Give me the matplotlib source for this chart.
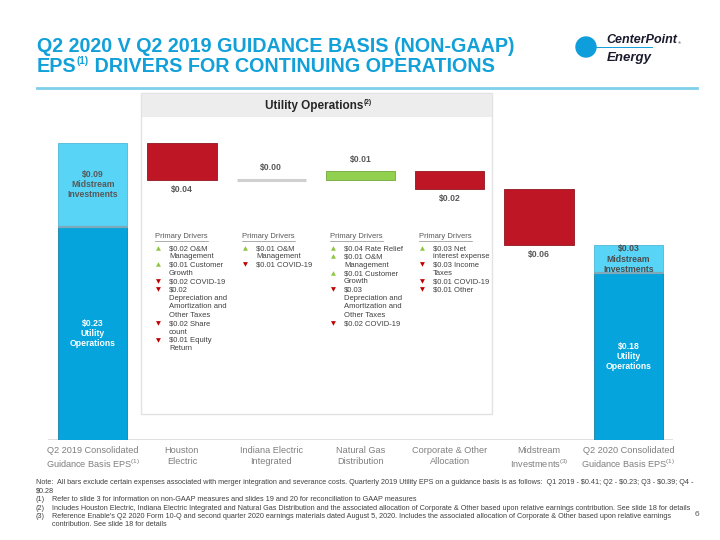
import matplotlib
matplotlib.use('Agg')
import matplotlib.pyplot as plt
from matplotlib.patches import Rectangle, Ellipse
from matplotlib.lines import Line2D

plt.rcParams['font.family'] = ['Liberation Sans', 'DejaVu Sans']
plt.rcParams['mathtext.fontset'] = 'custom'
plt.rcParams['mathtext.rm'] = 'Liberation Sans'
plt.rcParams['mathtext.default'] = 'regular'

# ---- data ----
categories = ['Q2 2019 Consolidated\nGuidance Basis EPS$^{(1)}$',
              'Houston\nElectric',
              'Indiana Electric\nIntegrated',
              'Natural Gas\nDistribution',
              'Corporate & Other\nAllocation',
              'Midstream\nInvestments$^{(3)}$',
              'Q2 2020 Consolidated\nGuidance Basis EPS$^{(1)}$']
start_util, start_mid = 0.23, 0.09
deltas = [-0.04, 0.00, 0.01, -0.02, -0.06]
end_util, end_mid = 0.18, 0.03

drivers = [
    [('up', '$0.02 O&M\nManagement'),
     ('up', '$0.01 Customer\nGrowth'),
     ('down', '$0.02 COVID-19'),
     ('down', '$0.02\nDepreciation and\nAmortization and\nOther Taxes'),
     ('down', '$0.02 Share\ncount'),
     ('down', '$0.01 Equity\nReturn')],
    [('up', '$0.01 O&M\nManagement'),
     ('down', '$0.01 COVID-19')],
    [('up', '$0.04 Rate Relief'),
     ('up', '$0.01 O&M\nManagement'),
     ('up', '$0.01 Customer\nGrowth'),
     ('down', '$0.03\nDepreciation and\nAmortization and\nOther Taxes'),
     ('down', '$0.02 COVID-19')],
    [('up', '$0.03 Net\ninterest expense'),
     ('down', '$0.03 Income\nTaxes'),
     ('down', '$0.01 COVID-19'),
     ('down', '$0.01 Other')],
]
driver_x = [155, 242, 330, 419]

notes = [
    (None, 'Note:  All bars exclude certain expenses associated with merger integration and severance costs. '
           'Quarterly 2019 Utility EPS on a guidance basis is as follows:  Q1 2019 - $0.41; Q2 - $0.23; Q3 - $0.39; Q4 -'),
    (None, '$0.28'),
    ('(1)', 'Refer to slide 3 for information on non-GAAP measures and slides 19 and 20 for reconciliation to GAAP measures'),
    ('(2)', 'Includes Houston Electric, Indiana Electric Integrated and Natural Gas Distribution and the associated '
            'allocation of Corporate & Other based upon relative earnings contribution. See slide 18 for details'),
    ('(3)', "Reference Enable's Q2 2020 Form 10-Q and second quarter 2020 earnings materials dated August 5, 2020. "
            'Includes the associated allocation of Corporate & Other based upon relative earnings'),
    ('', 'contribution. See slide 18 for details'),
]
note_y = [482, 491, 499.5, 508, 516.5, 525]

BLUE = '#12A0D9'
MID_C, UTIL_C = '#57D4F6', '#05A4DC'
RED, GREEN = '#BE1624', '#92D050'
GRAY = '#595959'

W, H = 720, 540
fig = plt.figure(figsize=(7.2, 5.4), dpi=100)
renderer = fig.canvas.get_renderer()


def fx(x):
    return x / W


def fy(y):
    return 1 - y / H


def esc(s):
    return s.replace('$', r'\$')


def seq_text(x, y, parts, **kw):
    # parts: (text, fontsize, raise_px); placed one after another
    for text, size, dy in parts:
        t = fig.text(fx(x), fy(y - dy), text, fontsize=size, va='baseline', **kw)
        x = t.get_window_extent(renderer).x1


# ---- header ----
fig.text(fx(37), fy(52), 'Q2 2020 V Q2 2019 GUIDANCE BASIS (NON-GAAP)', fontsize=14.2,
         weight='bold', color=BLUE, va='baseline')
seq_text(37, 71.5, [('EPS', 14.2, 0), ('(1)', 7, 7.5), (' DRIVERS FOR CONTINUING OPERATIONS', 14.2, 0)],
         weight='bold', color=BLUE)
fig.add_artist(Line2D([fx(37), fx(697)], [fy(88), fy(88)], color='#7DCFEA', lw=2))

# logo
fig.add_artist(Ellipse((fx(586), fy(47)), 20 / W, 20 / H, color='#0E9EDB'))
fig.add_artist(Line2D([fx(590), fx(652)], [fy(47), fy(47)], color='#0E9EDB', lw=0.7))
fig.text(fx(606), fy(40), 'CenterPoint', fontsize=9, weight='bold', style='italic',
         color='#1A1A2E', va='center')
fig.text(fx(678), fy(43), '®', fontsize=3, color='#1A1A2E', va='center')
fig.text(fx(607), fy(58), 'Energy', fontsize=9.5, weight='bold', style='italic',
         color='#1A1A2E', va='center')

# ---- utility operations panel ----
fig.add_artist(Rectangle((fx(141), fy(414)), (492 - 141) / W, (414 - 93) / H,
                         facecolor='white', edgecolor='#E2E2E2', lw=1, zorder=-2))
fig.add_artist(Rectangle((fx(141.5), fy(117)), (491 - 141) / W, (117 - 93.5) / H,
                         facecolor='#EDEDED', edgecolor='none', zorder=-1))
seq_text(265, 108.5, [('Utility Operations', 8.5, 0), ('(2)', 4.8, 4)], weight='bold', color='#262626')

# ---- waterfall ----
ax = fig.add_axes([fx(48), fy(440), 625 / W, (440 - 93) / H])
ax.patch.set_alpha(0)
ax.set_xlim(-0.5, 6.5)
ax.set_ylim(0, (440 - 93) / 928)
for s in ax.spines.values():
    s.set_visible(False)
ax.set_yticks([])
ax.set_xticks(range(len(categories)), categories)
ax.tick_params(axis='x', length=0, pad=4, labelsize=6.6, labelcolor='#7F7F7F')
for t in ax.get_xticklabels():
    t.set_linespacing(1.3)
ax.axhline(0, color='#D9D9D9', lw=1.2, zorder=0)

bw = 0.775
lab = dict(ha='center', va='center', fontsize=6.2, weight='bold', linespacing=1.15)

ax.bar(0, start_util, bw, color=UTIL_C, edgecolor='#1C7FA3', lw=0.6)
ax.bar(0, start_mid, bw, bottom=start_util, color=MID_C, edgecolor='#4FB7D6', lw=0.6)
ax.hlines(start_util, -bw / 2, bw / 2, color='#7FA9B8', lw=1.6)
ax.text(0, start_util + start_mid / 2, esc(f'${start_mid:.2f}\nMidstream\nInvestments'),
        color=GRAY, **lab)
ax.text(0, start_util / 2, esc(f'${start_util:.2f}\nUtility\nOperations'), color='white', **lab)

level = start_util + start_mid
for i, d in enumerate(deltas, start=1):
    new = round(level + d, 4)
    txt = esc(f'${abs(d):.2f}')
    if d == 0:
        ax.plot([i - bw / 2, i + bw / 2], [level, level], color='#D0D0D0', lw=2.2,
                solid_capstyle='butt')
        ax.annotate(txt, (i, level), xytext=(0, 6), textcoords='offset points',
                    ha='center', va='bottom', fontsize=6.2, weight='bold', color=GRAY)
    elif d > 0:
        ax.bar(i, d, bw, bottom=level, color=GREEN, edgecolor='#6FA83A', lw=0.6)
        ax.annotate(txt, (i, new), xytext=(0, 5), textcoords='offset points',
                    ha='center', va='bottom', fontsize=6.2, weight='bold', color=GRAY)
    else:
        ax.bar(i, -d, bw, bottom=new, color=RED, edgecolor='#8E1520', lw=0.6)
        ax.annotate(txt, (i, new), xytext=(0, -3.5), textcoords='offset points',
                    ha='center', va='top', fontsize=6.2, weight='bold', color=GRAY)
    level = new

ax.bar(6, end_util, bw, color=UTIL_C, edgecolor='#1C7FA3', lw=0.6)
ax.bar(6, end_mid, bw, bottom=end_util, color=MID_C, edgecolor='#4FB7D6', lw=0.6)
ax.hlines(end_util, 6 - bw / 2, 6 + bw / 2, color='#7FA9B8', lw=1.6)
ax.text(6, end_util + end_mid / 2, esc(f'${end_mid:.2f}\nMidstream\nInvestments'),
        color='#4D4D4D', **lab)
ax.text(6, end_util / 2, esc(f'${end_util:.2f}\nUtility\nOperations'), color='white', **lab)

# ---- primary drivers ----
step = 8.35
for x0, items in zip(driver_x, drivers):
    h = fig.text(fx(x0), fy(236.5), 'Primary Drivers', fontsize=5.5, color=GRAY, va='center')
    bb = h.get_window_extent(renderer)
    fig.add_artist(Line2D([bb.x0 / W, bb.x1 / W], [fy(240.5), fy(240.5)], color='#8C8C8C', lw=0.5))
    y = 248.5
    for kind, text in items:
        mark, mc = ('▲', '#8DC63F') if kind == 'up' else ('▼', '#C00000')
        fig.text(fx(x0 + 3.5), fy(y), mark, fontsize=4.6, color=mc, ha='center', va='center',
                 family='DejaVu Sans')
        for line in text.split('\n'):
            fig.text(fx(x0 + 14), fy(y), esc(line), fontsize=5.5, color='#404040', va='center')
            y += step

# ---- notes ----
for (num, text), y in zip(notes, note_y):
    if num is None:
        fig.text(fx(36), fy(y), esc(text), fontsize=5.2, color='#404040', va='center')
    else:
        fig.text(fx(36), fy(y), num, fontsize=5.2, color='#404040', va='center')
        fig.text(fx(52), fy(y), esc(text), fontsize=5.2, color='#404040', va='center')
fig.text(fx(697), fy(514), '6', fontsize=6, color='#595959', ha='center', va='center')

fig.savefig('out.png', dpi=100)
